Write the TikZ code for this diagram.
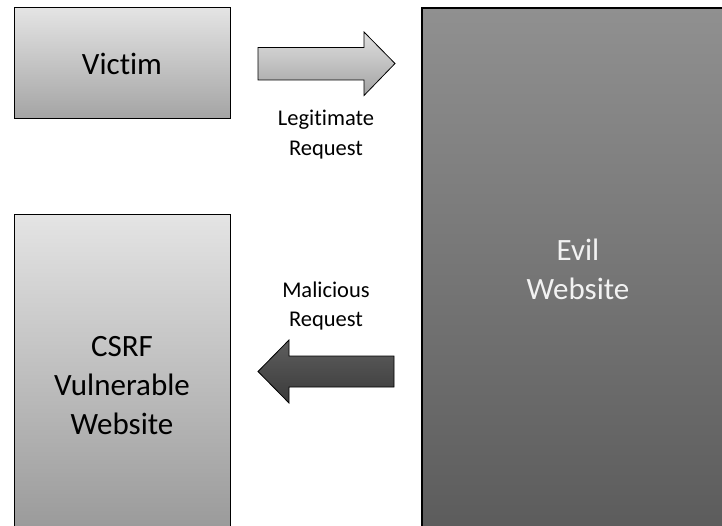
\documentclass[tikz,border=0pt]{standalone}
\usepackage{fontspec}
\setmainfont{Carlito}[Ligatures={NoCommon}]
\begin{document}
\begin{tikzpicture}[x=1pt,y=-1pt,
  bigtext/.style={font=\fontsize{31}{39}\selectfont, align=center},
  smalltext/.style={font=\fontsize{22.5}{29.5}\selectfont, align=center, inner sep=0pt},
  lightbox/.style={draw=black, line width=1pt, top color=lgtop, bottom color=lgbot, inner sep=0pt},
]
\definecolor{lgtop}{HTML}{E4E4E4}
\definecolor{lgbot}{HTML}{A4A4A4}
\definecolor{evtop}{HTML}{909090}
\definecolor{evbot}{HTML}{5C5C5C}
\definecolor{evtext}{HTML}{F2F2F2}
\definecolor{arlt}{HTML}{E0E0E0}
\definecolor{arlb}{HTML}{A2A2A2}
\definecolor{ardt}{HTML}{5E5E5E}
\definecolor{ardb}{HTML}{3A3A3A}
\clip (0,0) rectangle (722,526);
\fill[white] (0,0) rectangle (722,526);
% boxes
\node[lightbox, bigtext, minimum width=216, minimum height=111] (victim) at (122,63.5) {Victim};
\node[lightbox, bigtext, minimum width=216, minimum height=342, bottom color=lgbot!90!black] (csrf) at (122,386) {CSRF\\Vulnerable\\Website};
\node[draw=black, line width=1.8pt, top color=evtop, bottom color=evbot, bigtext, text=evtext, minimum width=312, minimum height=522] (evil) at (578,269) {Evil\\Website};
% legitimate arrow
\shade[top color=arlt, bottom color=arlb, draw=black, line width=0.8pt, line join=miter]
  (258,47.5) -- (364,47.5) -- (364,32) -- (395,63.5) -- (364,95.5) -- (364,80) -- (258,80) -- cycle;
\node[smalltext] (legit) at (326,134.5) {Legitimate\\Request};
% malicious arrow
\shade[top color=ardt, bottom color=ardb, draw=black, line width=0.8pt, line join=miter]
  (394,356) -- (289,356) -- (289,340) -- (258,371.5) -- (289,403) -- (289,387) -- (394,387) -- cycle;
\node[smalltext] (mal) at (326,306) {Malicious\\Request};
\end{tikzpicture}
\end{document}
